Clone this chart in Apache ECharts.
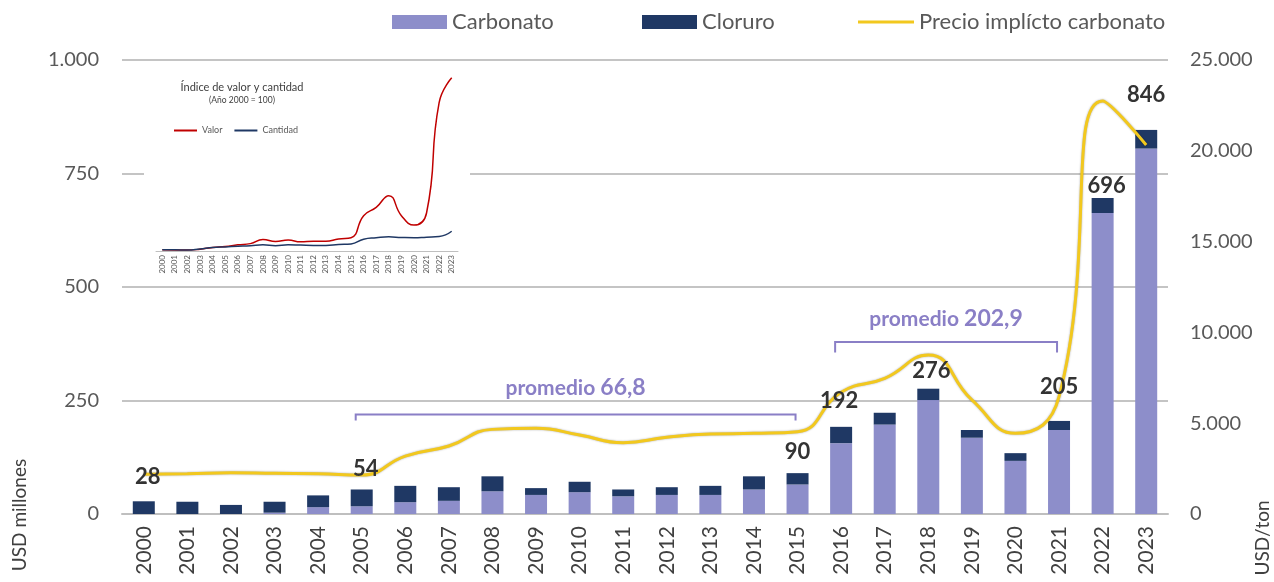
<!DOCTYPE html>
<html><head><meta charset="utf-8">
<script src="https://cdn.jsdelivr.net/npm/echarts@6/dist/echarts.min.js"></script>
<style>html,body{margin:0;padding:0;background:#fff}#c{width:1274px;height:582px}</style>
</head><body><div id="c"></div>
<script>
// ---- data ----
const years = ['2000','2001','2002','2003','2004','2005','2006','2007','2008','2009','2010','2011','2012','2013','2014','2015','2016','2017','2018','2019','2020','2021','2022','2023'];
const carbonato = [0,0,0,3,15,17,26,29,50,42,48,39,42,42,54,65,156,197,251,168,117,185,663,805];
const cloruro   = [28,27,20,24,26,37,36,30,33,15,23,15,17,20,29,25,36,26,25,17,17,20,33,41];
const precio    = [2190,2220,2270,2240,2220,2150,3190,3745,4660,4720,4350,3930,4225,4400,4440,4530,6700,7470,8750,6280,4440,6460,22740,20320];
const indiceValor    = [100,97,95,110,140,155,185,205,275,240,265,235,245,245,285,305,680,820,1020,680,520,725,2600,3020];
const indiceCantidad = [100,100,96,115,140,150,160,170,185,170,185,180,175,175,190,200,280,305,320,310,305,315,325,415];
const labelYears = ['2000','2005','2015','2016','2018','2021','2022','2023'];
const leftTicks  = [0,250,500,750,1000];
const rightTicks = [0,5000,10000,15000,20000,25000];
const promedios = [
  {from:'2005', to:'2015', text:'promedio', value:'66,8'},
  {from:'2016', to:'2021', text:'promedio', value:'202,9'}
];

// ---- styles ----
const FONT = 'Lato, "Open Sans", sans-serif';
const C_CARB = '#8D8ECA', C_CLOR = '#1F3864', C_LINE = '#F2C81E';
const labelStyle = { // label lift above bar top (px) and x shift
  '2000':[4,13],'2005':[4,9],'2015':[0,10],'2016':[-2,14],'2018':[3,6],'2021':[0,23],'2022':[4,1],'2023':[0,24]
};
const fmt = v => String(v).replace(/\B(?=(\d{3})+(?!\d))/g,'.');

// invisible label carrier sitting at each bar's stacked top
const labelData = years.map((y,i)=>{
  const tot = carbonato[i]+cloruro[i];
  if (labelYears.indexOf(y) < 0) return {value:tot, label:{show:false}};
  const s = labelStyle[y];
  return {value:tot, label:{show:true, position:'top', distance:s[1], offset:[s[0],0], formatter:String(tot)}};
});

const legText = {fontSize:22, color:'#595959', fontFamily:FONT};
const chart = echarts.init(document.getElementById('c'));
const option = {
  animation:false,
  textStyle:{fontFamily:FONT},
  legend:[
    {left:387, top:6, itemWidth:55, itemHeight:14, textStyle:legText, data:[{name:'Carbonato', icon:'rect'}]},
    {left:637, top:6, itemWidth:55, itemHeight:14, textStyle:legText, data:[{name:'Cloruro', icon:'rect'}]},
    {left:853, top:6, itemWidth:56, itemHeight:3, textStyle:legText, data:[{name:'Precio implícto carbonato', icon:'rect'}]},
    {left:169, top:121, itemWidth:23, itemHeight:2, itemGap:12,
     textStyle:{fontSize:9, color:'#595959', fontFamily:FONT},
     data:[{name:'Valor', icon:'rect'},{name:'Cantidad', icon:'rect'}]}
  ],
  title:{
    text:'Índice de valor y cantidad', subtext:'(Año 2000 = 100)',
    left:237, top:77, textAlign:'center', itemGap:3,
    textStyle:{fontSize:11, fontWeight:'normal', color:'#404040', fontFamily:FONT},
    subtextStyle:{fontSize:8.5, color:'#404040', fontFamily:FONT}
  },
  grid:[
    {left:122, right:106, top:60, bottom:68},
    {left:156, right:816, top:74, bottom:331}
  ],
  xAxis:[{
    type:'category', data:years, gridIndex:0,
    axisLine:{lineStyle:{color:'#BFBFBF', width:2}}, axisTick:{show:false},
    axisLabel:{rotate:90, fontSize:21, color:'#404040', margin:12, fontFamily:FONT}
  },{
    type:'category', data:years, gridIndex:1, z:3,
    axisLine:{lineStyle:{color:'#BFBFBF', width:1}}, axisTick:{show:false},
    axisLabel:{rotate:90, fontSize:8, color:'#595959', margin:4, interval:0, fontFamily:FONT}
  }],
  yAxis:[{
    type:'value', gridIndex:0, min:leftTicks[0], max:leftTicks[leftTicks.length-1], interval:leftTicks[1]-leftTicks[0],
    axisLine:{show:false}, axisTick:{show:false},
    axisLabel:{fontSize:20, color:'#595959', margin:23, formatter:fmt, fontFamily:FONT},
    splitLine:{lineStyle:{color:'#C4C4C4', width:2}}
  },{
    type:'value', gridIndex:0, position:'right', min:rightTicks[0], max:rightTicks[rightTicks.length-1], interval:rightTicks[1]-rightTicks[0],
    axisLine:{show:false}, axisTick:{show:false}, splitLine:{show:false},
    axisLabel:{fontSize:20, color:'#595959', margin:22, formatter:fmt, fontFamily:FONT}
  },{
    type:'value', gridIndex:1, min:80, max:3085, show:false, splitLine:{show:false}
  }],
  series:[{
    name:'Carbonato', type:'bar', stack:'t', data:carbonato, barWidth:22,
    xAxisIndex:0, yAxisIndex:0, itemStyle:{color:C_CARB}
  },{
    name:'Cloruro', type:'bar', stack:'t', data:cloruro, barWidth:22,
    xAxisIndex:0, yAxisIndex:0, itemStyle:{color:C_CLOR}
  },{
    name:'Precio implícto carbonato', type:'line', data:precio, smooth:0.5, symbol:'none',
    xAxisIndex:0, yAxisIndex:1, z:4,
    lineStyle:{color:C_LINE, width:3, shadowColor:'rgba(0,0,0,0.35)', shadowBlur:2},
    itemStyle:{color:C_LINE}
  },{
    name:'totales', type:'scatter', data:labelData, symbolSize:1, silent:true,
    xAxisIndex:0, yAxisIndex:0, z:8,
    itemStyle:{color:'rgba(255,255,255,0)'},
    label:{fontSize:22, fontWeight:'bold', color:'#333333', opacity:1, textBorderWidth:0, fontFamily:FONT}
  },{
    name:'Valor', type:'line', data:indiceValor, smooth:0.5, symbol:'none',
    xAxisIndex:1, yAxisIndex:2, z:5,
    lineStyle:{color:'#C00000', width:1.5}, itemStyle:{color:'#C00000'}
  },{
    name:'Cantidad', type:'line', data:indiceCantidad, smooth:0.5, symbol:'none',
    xAxisIndex:1, yAxisIndex:2, z:5,
    lineStyle:{color:'#1F3864', width:1.5}, itemStyle:{color:'#1F3864'}
  }]
};
chart.setOption(option);

// ---- annotations positioned through the axes ----
const px = (cat, val) => chart.convertToPixel({xAxisIndex:0, yAxisIndex:0}, [cat, val]);
const bracketVals = [[219,206,278],[379,356,430]];
const g = [
  {type:'rect', z:1, shape:{x:144, y:63, width:326, height:222}, style:{fill:'#fff'}},
  {type:'text', rotation:Math.PI/2, x:20, y:515, z:10,
    style:{text:'USD millones', fontSize:19, fill:'#404040', fontFamily:FONT, align:'center', verticalAlign:'middle'}},
  {type:'text', rotation:Math.PI/2, x:1263, y:538, z:10,
    style:{text:'USD/ton', fontSize:19, fill:'#404040', fontFamily:FONT, align:'center', verticalAlign:'middle'}}
];
promedios.forEach((p,k)=>{
  const [yb, yt, ytx] = bracketVals[k];
  const a = px(p.from, yb), b = px(p.to, yb);
  const tb = px(p.from, yt);
  const x1 = a[0]-6, x2 = b[0]-2;
  g.push({type:'polyline', z:10, shape:{points:[[x1,tb[1]],[x1,a[1]],[x2,a[1]],[x2,tb[1]]]},
    style:{stroke:'#8A7FC6', lineWidth:2, fill:null}});
  const t = px(p.from, ytx);
  g.push({type:'text', z:10, x:(x1+x2)/2, y:t[1],
    style:{text:'{a|'+p.text+' }{b|'+p.value+'}', align:'center', verticalAlign:'middle',
      rich:{a:{fontSize:21, fontWeight:'bold', fill:'#8A7FC6', fontFamily:FONT},
            b:{fontSize:23, fontWeight:'bold', fill:'#8A7FC6', fontFamily:FONT}}}});
});
chart.setOption({graphic:g});
</script></body></html>
